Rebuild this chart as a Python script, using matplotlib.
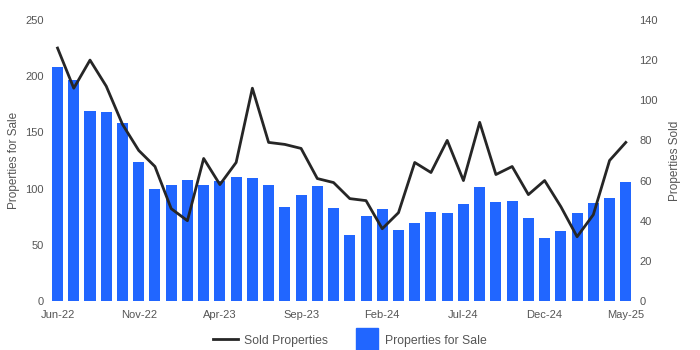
import numpy as np
import pandas as pd
import matplotlib
matplotlib.use("Agg")
import matplotlib.pyplot as plt
from matplotlib.lines import Line2D

plt.rcParams["font.family"] = ["Liberation Sans", "DejaVu Sans"]

months = pd.date_range("2022-06-01", "2025-05-01", freq="MS")
labels = [m.strftime("%b-%y") for m in months]

for_sale = [208, 197, 169, 168, 158, 124, 100, 103, 108, 103, 107, 110,
            109, 103, 84, 94, 102, 83, 59, 76, 82, 63, 69, 79,
            78, 86, 101, 88, 89, 74, 56, 62, 78, 87, 92, 106]
sold = [126, 106, 120, 107, 88, 75, 67, 46, 40, 71, 58, 69,
        106, 79, 78, 76, 61, 59, 51, 50, 36, 44, 69, 64,
        80, 60, 89, 63, 67, 53, 60, 47, 32, 43, 70, 79]

BAR_COLOR = "#2166ff"
LINE_COLOR = "#262626"
TEXT_COLOR = "#555555"

fig = plt.figure(figsize=(7, 3.5), dpi=100)
ax = fig.add_axes([0.0706, 0.14, 0.835, 0.803])
ax2 = ax.twinx()

x = np.arange(len(labels))
ax.bar(x, for_sale, width=0.68, color=BAR_COLOR)
line, = ax2.plot(x, sold, color=LINE_COLOR, lw=2.0)

ax.set_xlim(-0.5, len(labels) - 0.5)
ax.set_ylim(0, 250)
ax2.set_ylim(0, 140)
ax.set_yticks(range(0, 251, 50))
ax2.set_yticks(range(0, 141, 20))
ax.set_xticks(x[::5])
ax.set_xticklabels(labels[::5])

for a in (ax, ax2):
    for s in a.spines.values():
        s.set_visible(False)
    a.tick_params(length=0, labelsize=8, colors=TEXT_COLOR, pad=4)
ax.tick_params(axis="x", pad=6.5)

ax.set_ylabel("Properties for Sale", fontsize=8.5, color=TEXT_COLOR, labelpad=4)
ax2.set_ylabel("Properties Sold", fontsize=8.5, color=TEXT_COLOR, labelpad=8)

# square swatch for the bar series
square = Line2D([], [], marker="s", markersize=16, linestyle="none",
                color=BAR_COLOR)
fig.legend([line, square], ["Sold Properties", "Properties for Sale"],
           loc="center", bbox_to_anchor=(0.5, 0.027), ncol=2, frameon=False,
           fontsize=8.8, labelcolor=TEXT_COLOR, handlelength=2.0,
           columnspacing=2.2, handletextpad=0.5)

fig.savefig("out.png", dpi=100)
